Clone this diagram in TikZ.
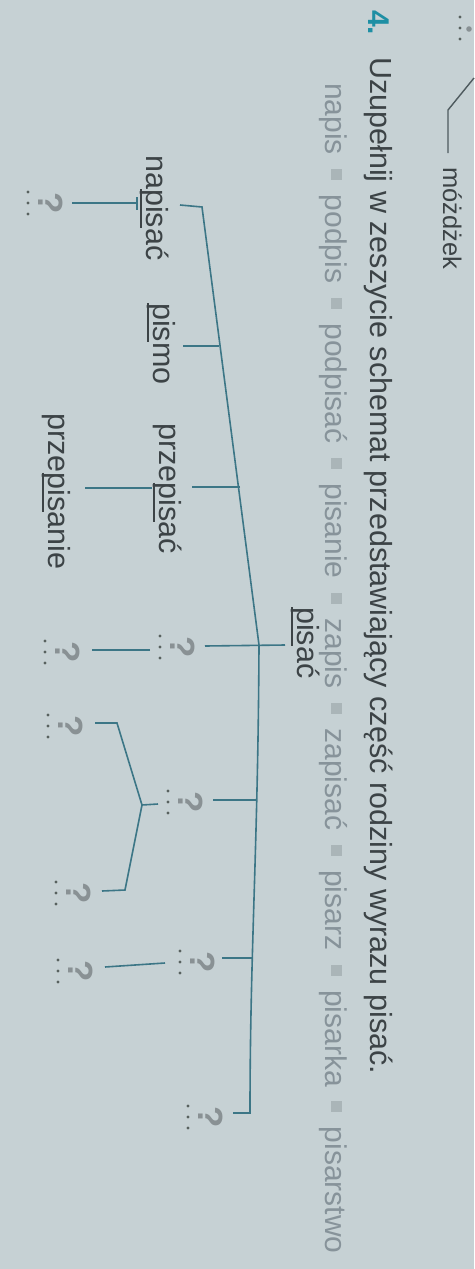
\documentclass[tikz,border=0pt]{standalone}
\usepackage{fontspec}
\setmainfont{Liberation Sans}
\definecolor{bg}{HTML}{C6D1D4}
\definecolor{ink}{HTML}{3C4346}
\definecolor{ln}{HTML}{3C7686}
\definecolor{qc}{HTML}{899194}
\definecolor{lst}{HTML}{87939A}
\definecolor{sq}{HTML}{AAB5B8}
\definecolor{tealfour}{HTML}{1E8FA4}
\definecolor{dotc}{HTML}{58615F}
\definecolor{prevln}{HTML}{4E5A5E}
\newcommand\rt[1]{\setbox0\hbox{#1}\rlap{\rule[-0.2em]{\wd0}{0.065em}}\box0}
\newcommand\sqsep{\hspace{14.5pt}{\color{sq}\rule[0.2em]{11pt}{11pt}}\hspace{14.5pt}}
\newcommand\qph[3]{%
  \node[qm] (#1) at (#2,#3) {?};
  \foreach \dd in {-11,0,11}{\fill[dotc] (#2-10,#3+\dd) circle (1.6);}
}
\begin{document}
\begin{tikzpicture}[x=1pt,y=-1pt,
  word/.style={rotate=-90,anchor=base west,inner sep=0pt,text=ink,font=\fontsize{30.5}{36}\selectfont},
  qm/.style={rotate=-90,anchor=base,inner sep=0pt,text=qc,font=\fontsize{35}{40}\selectfont\bfseries},
  conn/.style={draw=ln,line width=1.6pt}]
\useasboundingbox (0,0) rectangle (474,1269);
\fill[bg] (0,0) rectangle (474,1269);

% remains of the previous exercise
\coordinate (pa) at (474,78);
\coordinate (pb) at (448,110);
\coordinate (pc) at (448,153);
\draw[prevln,line width=1.4pt] (pa) -- (pb) -- (pc);
\node[word,font=\fontsize{25.5}{30}\selectfont] (mozdzek) at (443,167) {móżdżek};
\foreach \dd in {17,28,39}{\fill[dotc] (460,\dd) circle (1.6);}
\fill[qc] (469,29) circle (2.8);

% task
\node[word,text=tealfour,font=\fontsize{30}{36}\selectfont\bfseries] (num) at (368,10) {4.};
\node[word] (title) at (370,57) {Uzupełnij w zeszycie schemat przedstawiający część rodziny wyrazu pisać.};
\node[word,text=lst,font=\fontsize{30}{36}\selectfont] (list) at (325,83)
  {napis\sqsep podpis\sqsep podpisać\sqsep pisanie\sqsep zapis\sqsep zapisać\sqsep pisarz\sqsep pisarka\sqsep pisarstwo};

% words
\node[word] (napisac) at (146,155) {na\rt{pis}ać};
\node[word] (pismo) at (153,303) {\rt{pis}mo};
\node[word] (przepisac) at (159,423) {prze\rt{pis}ać};
\node[word] (przepisanie) at (48,413) {prze\rt{pis}anie};
\node[word] (pisac) at (297,607) {\rt{pis}ać};

% placeholders
\qph{q1}{38}{203}
\qph{q2}{170}{647}
\qph{q3}{55}{652}
\qph{q4}{178}{802}
\qph{q5}{58}{726}
\qph{q6}{66}{893}
\qph{q7}{190}{962}
\qph{q8}{68}{971}
\qph{q9}{198}{1117}

% trunk
\coordinate (e0) at (180,205);
\coordinate (t0) at (202,207);
\coordinate (tpis) at (259,645);
\coordinate (tb) at (250,1113);
\coordinate (eb) at (233,1113);
\draw[conn] (e0) -- (t0) -- (tpis) .. controls (258,850) and (250,950) .. (tb) -- (eb);

% branches
\coordinate (bm1) at (219,346);  \coordinate (bm2) at (183,346);
\draw[conn] (bm1) -- (bm2);
\coordinate (bp1) at (240,487);  \coordinate (bp2) at (192,487);
\draw[conn] (bp1) -- (bp2);
\coordinate (bs1) at (285,645);  \coordinate (bs2) at (205,646);
\draw[conn] (bs1) -- (bs2);
\coordinate (b41) at (256,800);  \coordinate (b42) at (213,800);
\draw[conn] (b41) -- (b42);
\coordinate (b71) at (252,958);  \coordinate (b72) at (222,958);
\draw[conn] (b71) -- (b72);

% secondary links
\coordinate (n1) at (137,203); \coordinate (n2) at (72,203);
\draw[conn] (n1) -- (n2);
\draw[conn] (137,197) -- (137,210);
\coordinate (r1) at (152,488); \coordinate (r2) at (85,488);
\draw[conn] (r1) -- (r2);
\coordinate (s1) at (150,650); \coordinate (s2) at (92,650);
\draw[conn] (s1) -- (s2);
\coordinate (v) at (142,805);
\coordinate (vq) at (158,804);
\coordinate (vt1) at (117,723); \coordinate (vt2) at (95,723);
\coordinate (vb1) at (125,890); \coordinate (vb2) at (102,891);
\draw[conn] (vq) -- (v);
\draw[conn] (v) -- (vt1) -- (vt2);
\draw[conn] (v) -- (vb1) -- (vb2);
\coordinate (w1) at (165,963); \coordinate (w2) at (105,967);
\draw[conn] (w1) -- (w2);
\end{tikzpicture}
\end{document}
